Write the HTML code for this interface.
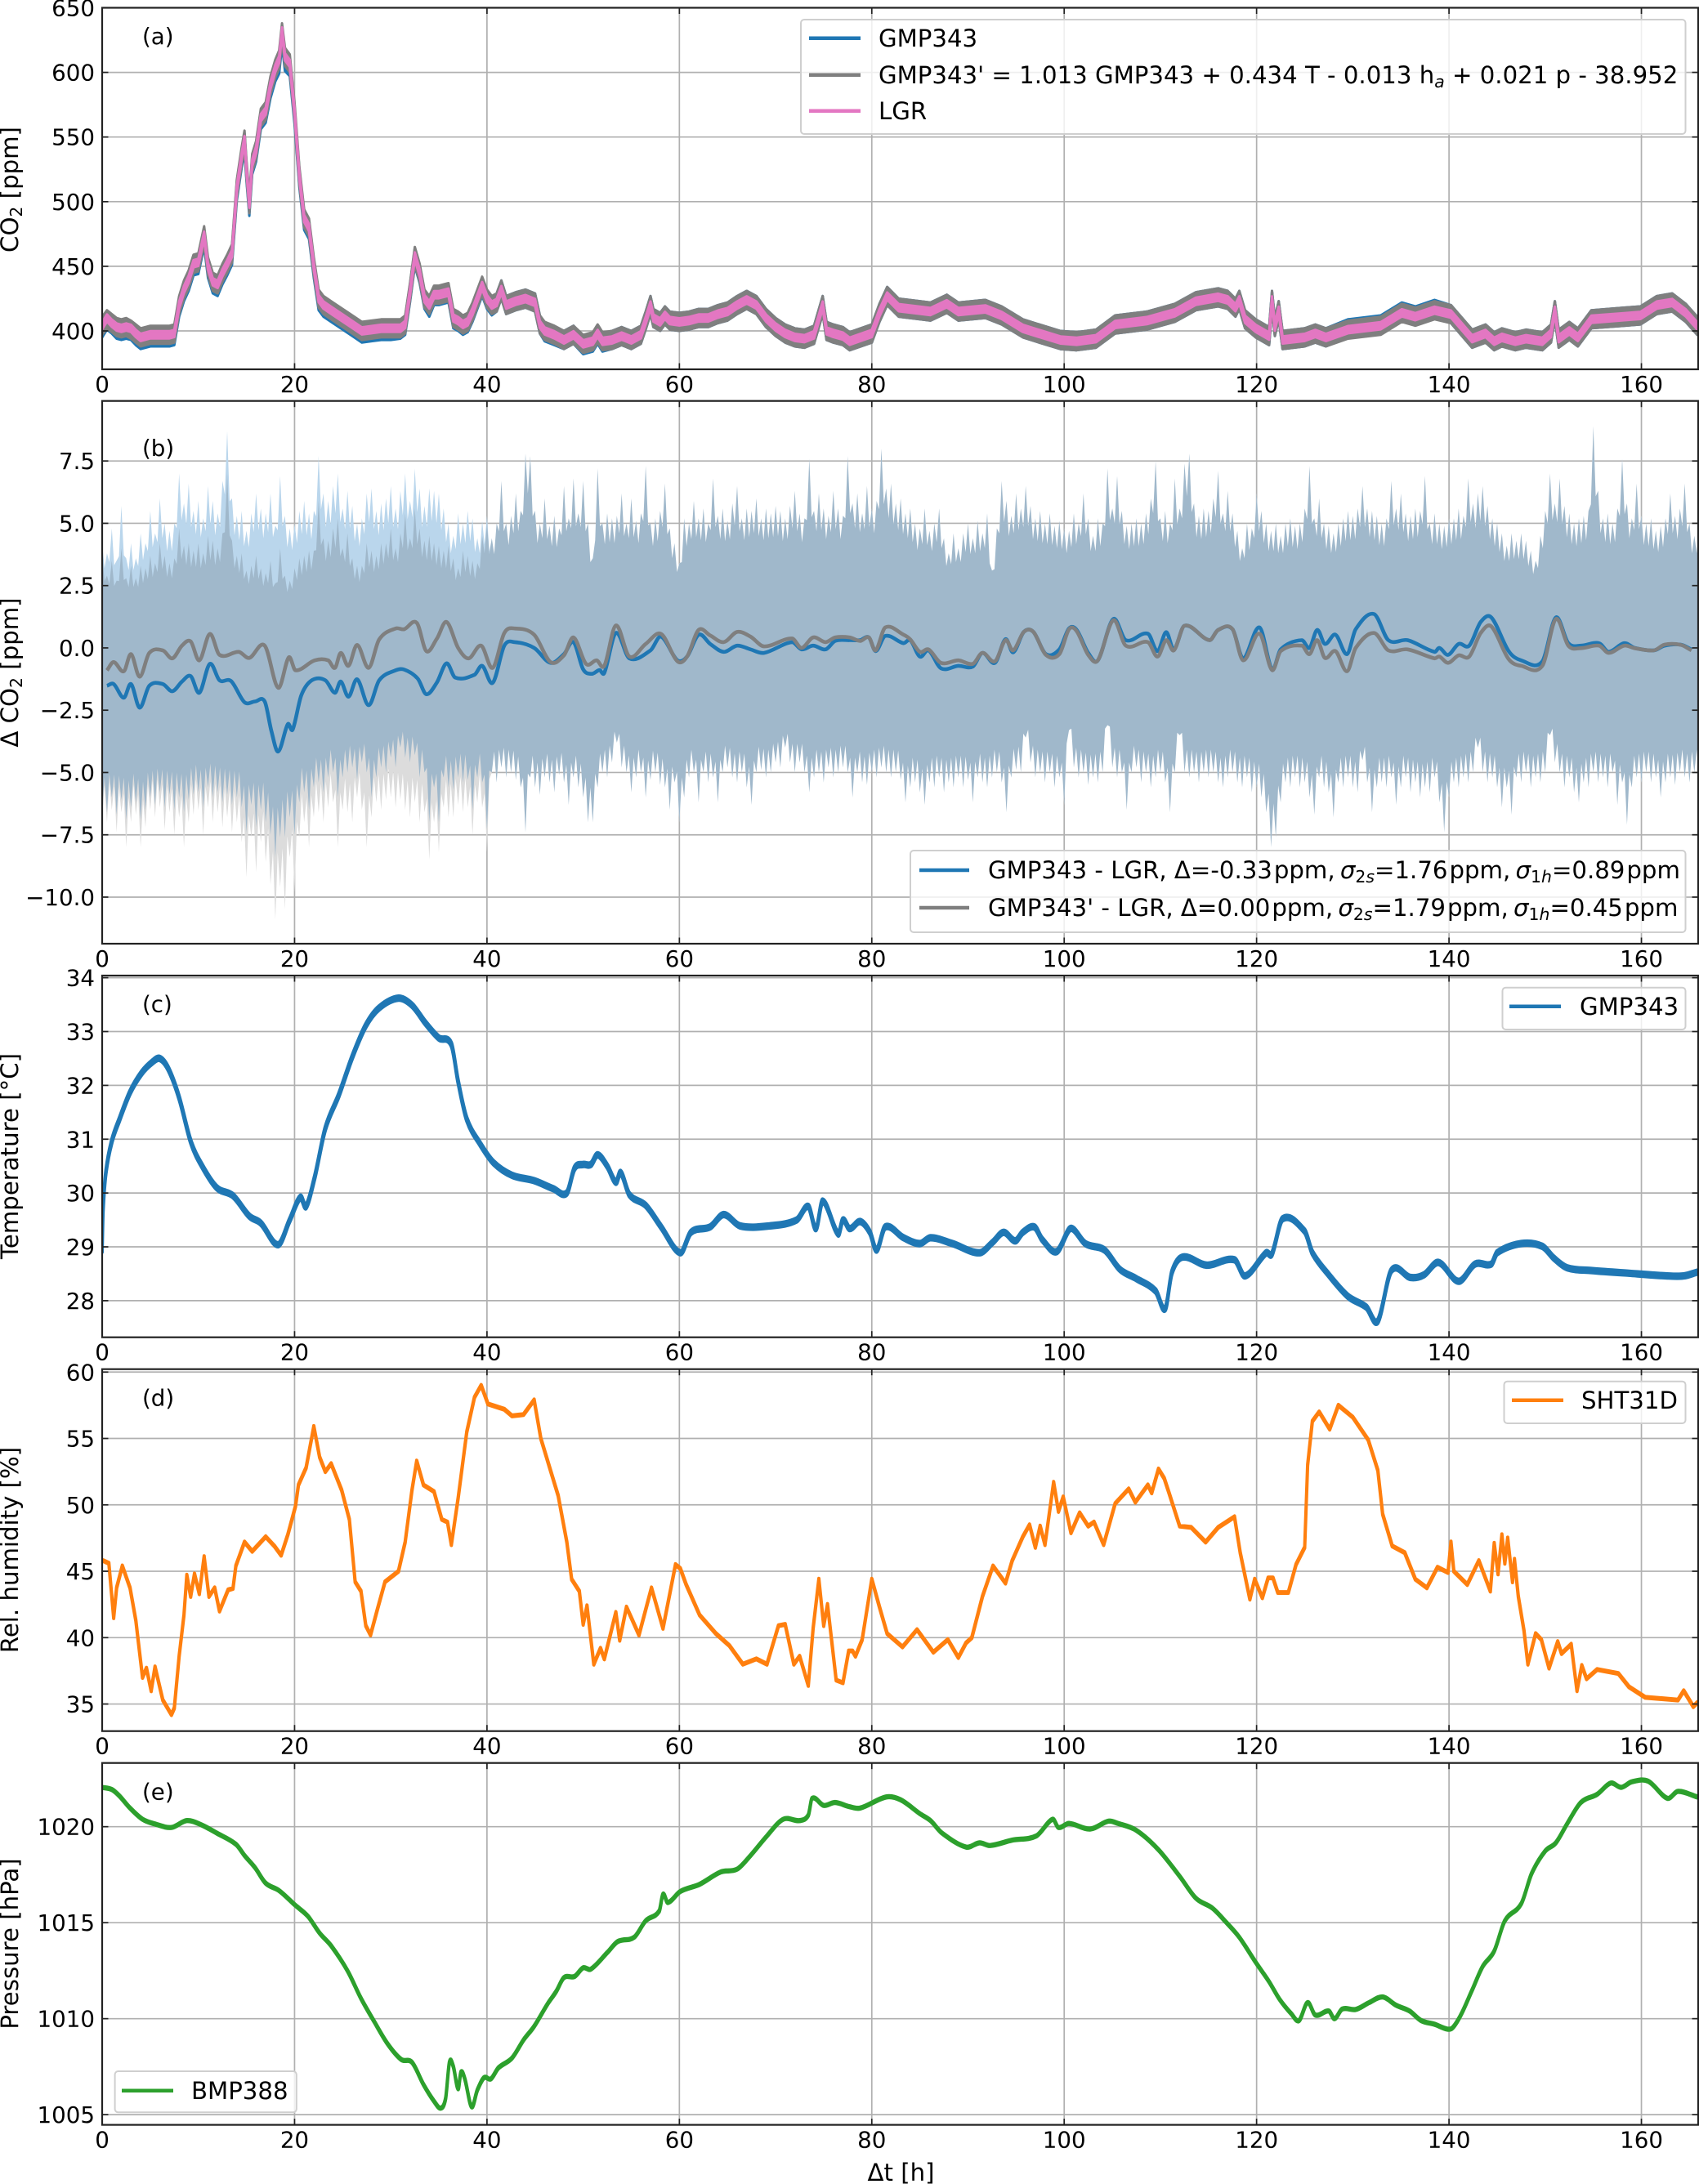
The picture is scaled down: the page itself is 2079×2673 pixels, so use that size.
<!DOCTYPE html>
<html lang="en">
<head>
<meta charset="utf-8">
<title>CO2 sensor comparison time series</title>
<style>
html,body{margin:0;padding:0;background:#fff;}
svg{display:block;font-family:"DejaVu Sans","Liberation Sans",sans-serif;font-size:27.7px;fill:#000;}
.legend-box{fill:rgba(255,255,255,.8);stroke:#cfcfcf;stroke-width:2;}
.big{font-size:29.2px;}
.sub{font-size:20.4px;}
</style>
</head>
<body>
<svg id="chart" xmlns="http://www.w3.org/2000/svg" width="2079" height="2673" viewBox="0 0 2079 2673">
  <rect x="0" y="0" width="2079" height="2673" fill="#fff"/>
  <g id="plot-layer"></g>

  <text x="174" y="54">(a)</text>
  <text x="174" y="558">(b)</text>
  <text x="174" y="1238.5">(c)</text>
  <text x="174" y="1720.5">(d)</text>
  <text x="174" y="2202.5">(e)</text>

  <text class="big" transform="translate(22,232) rotate(-90)" text-anchor="middle">CO<tspan class="sub" dy="5">2</tspan><tspan dy="-5"> [ppm]</tspan></text>
  <text class="big" transform="translate(22,823) rotate(-90)" text-anchor="middle">Δ CO<tspan class="sub" dy="5">2</tspan><tspan dy="-5"> [ppm]</tspan></text>
  <text class="big" transform="translate(22,1415) rotate(-90)" text-anchor="middle">Temperature [°C]</text>
  <text class="big" transform="translate(22,1897) rotate(-90)" text-anchor="middle">Rel. humidity [%]</text>
  <text class="big" transform="translate(22,2379) rotate(-90)" text-anchor="middle">Pressure [hPa]</text>
  <text class="big" x="1102.5" y="2669" text-anchor="middle">Δt [h]</text>

  <g class="big">
    <rect class="legend-box" x="980" y="24" width="1082.5" height="140" rx="4"/>
    <line x1="990" x2="1053" y1="46.7" y2="46.7" stroke="#1f77b4" stroke-width="4.5"/>
    <text x="1075" y="57">GMP343</text>
    <line x1="990" x2="1053" y1="91.7" y2="91.7" stroke="#7f7f7f" stroke-width="4.5"/>
    <text x="1075" y="102">GMP343' = 1.013 GMP343 + 0.434 T - 0.013 h<tspan class="sub" font-style="italic" dy="5">a</tspan><tspan dy="-5"> + 0.021 p - 38.952</tspan></text>
    <line x1="990" x2="1053" y1="135.7" y2="135.7" stroke="#e377c2" stroke-width="4.5"/>
    <text x="1075" y="146">LGR</text>
  </g>

  <g class="big">
    <rect class="legend-box" x="1114" y="1041" width="948.5" height="100" rx="4"/>
    <line x1="1125" x2="1186" y1="1065" y2="1065" stroke="#1f77b4" stroke-width="4.5"/>
    <text x="1209" y="1075">GMP343 - LGR, Δ=-0.33<tspan dx="2">ppm,</tspan> <tspan dx="-3" font-style="italic">σ</tspan><tspan class="sub" dy="5">2</tspan><tspan class="sub" font-style="italic">s</tspan><tspan dy="-5">=1.76</tspan><tspan dx="2">ppm,</tspan> <tspan dx="-3" font-style="italic">σ</tspan><tspan class="sub" dy="5">1</tspan><tspan class="sub" font-style="italic">h</tspan><tspan dy="-5">=0.89</tspan><tspan dx="2">ppm</tspan></text>
    <line x1="1125" x2="1186" y1="1111" y2="1111" stroke="#7f7f7f" stroke-width="4.5"/>
    <text x="1209" y="1121">GMP343' - LGR, Δ=0.00<tspan dx="2">ppm,</tspan> <tspan dx="-3" font-style="italic">σ</tspan><tspan class="sub" dy="5">2</tspan><tspan class="sub" font-style="italic">s</tspan><tspan dy="-5">=1.79</tspan><tspan dx="2">ppm,</tspan> <tspan dx="-3" font-style="italic">σ</tspan><tspan class="sub" dy="5">1</tspan><tspan class="sub" font-style="italic">h</tspan><tspan dy="-5">=0.45</tspan><tspan dx="2">ppm</tspan></text>
  </g>

  <g class="big">
    <rect class="legend-box" x="1838.5" y="1208.7" width="224" height="51.3" rx="4"/>
    <line x1="1847" x2="1910" y1="1231.7" y2="1231.7" stroke="#1f77b4" stroke-width="4.5"/>
    <text x="1933" y="1242">GMP343</text>
  </g>

  <g class="big">
    <rect class="legend-box" x="1840.5" y="1690.7" width="222" height="51.3" rx="4"/>
    <line x1="1850" x2="1913" y1="1713.7" y2="1713.7" stroke="#ff7f0e" stroke-width="4.5"/>
    <text x="1935" y="1724">SHT31D</text>
  </g>

  <g class="big">
    <rect class="legend-box" x="140.6" y="2535" width="222.2" height="50.3" rx="4"/>
    <line x1="149" x2="212" y1="2558.8" y2="2558.8" stroke="#2ca02c" stroke-width="4.5"/>
    <text x="234" y="2569">BMP388</text>
  </g>
</svg>

<script>
// Shared x axis
const xTicks = [0,20,40,60,80,100,120,140,160];
const xMaxHours = 165.9;

// Panel (a): CO2
const co2Ticks = [400,450,500,550,600,650];
const co2Hours = [
0,.5,1,1.5,2,2.5,3,3.5,4,5,6,7,7.5,8,8.5,9,9.5,10,10.6,11,
11.5,12,12.5,13,13.5,14,14.5,14.8,15,15.3,15.6,16,16.5,17,17.5,18,18.4,18.7,19,19.5,
20,20.5,21,21.5,22,22.5,23,24,25,26,27,28,29,30,31,31.5,32,32.5,33,33.5,
34,34.5,35,36,36.5,37,37.5,38,38.5,39,39.5,40,40.5,41,41.5,42,43,44,45,45.5,
46,47,48,49,50,51,51.5,52,53,54,55,56,56.5,57,57.3,58,58.5,59,60,61,
62,63,64,65,66,67,68,69,70,71,72,73,74,74.9,75.3,76,77,77.7,80,80.8,
81.6,82.8,85,86.1,87.8,89,91.8,93.5,95.7,97.4,99.6,101.3,103.3,105.3,108.6,111.5,113.7,116,117,117.8,
118.2,118.8,119.9,121.3,121.6,121.9,122.3,122.7,125,126.1,127.2,129.5,132.9,135.1,136.5,138.5,140.2,142.4,143.8,144.7,
145.5,146.9,148,149.7,150.6,151,151.4,152.5,153.4,154.8,158.2,159.9,161.6,163.2,164.6,165.8];
const co2Lgr = [
404,410,406,403,402,403,402,398,395,397,397,397,398,420,432,440,452,453,474,450,
438,436,445,452,460,510,535,548,525,498,530,540,565,570,590,603,610,632,612,607,
570,520,487,480,450,425,420,415,410,405,400,401,402,402,402,405,430,458,445,425,
420,428,428,430,410,408,405,407,415,425,435,425,420,422,432,420,423,425,422,405,
400,397,393,397,390,392,398,392,393,396,393,397,408,420,410,407,412,408,407,408,
410,410,413,415,420,424,420,410,403,398,395,394,397,420,400,398,396,392,398,414,
427,418,416,415,421,415,417,412,402,398,393,392,394,405,408,414,423,426,424,418,
424,409,402,396,424,403,416,393,395,398,395,401,404,414,411,416,413,394,398,392,
395,392,394,392,398,416,394,400,395,409,411,412,420,422,414,404];
const co2Gmp = [
402,408,405,401,400,401,400,396,393,395,395,395,396,418,430,438,450,451,472,448,
436,434,443,450,458,508,533,546,523,496,528,538,563,568,587,600,606,628,608,604,
567,518,485,478,448,423,418,413,408,403,398,399,400,400,401,404,429,457,444,424,
418,427,427,429,409,407,404,406,414,424,434,424,419,422,432,420,423,425,422,405,
399,396,393,397,389,391,397,391,393,396,393,397,408,420,410,407,412,408,407,408,
410,410,413,415,420,424,420,410,403,398,395,394,397,420,400,398,396,392,398,414,
427,418,416,415,421,415,417,412,402,398,393,392,394,405,408,414,423,426,424,418,
424,409,402,396,424,403,416,393,395,398,395,402,405,415,412,417,413,394,398,392,
395,392,394,392,398,416,394,400,395,409,411,412,420,422,414,404];
const co2Corrected = [
404,409,406,403,402,403,401,398,395,397,397,397,398,420,432,440,452,453,474,450,
438,436,445,452,460,510,535,548,525,498,530,540,565,570,590,603,610,631,612,607,
570,520,487,480,450,425,420,415,410,405,400,401,402,402,402,405,430,458,445,425,
420,428,428,430,410,408,405,407,415,425,435,425,420,422,432,420,423,425,422,405,
400,397,393,397,390,392,398,392,393,396,393,397,408,420,410,407,412,408,407,408,
410,410,413,415,420,424,420,410,403,398,395,394,397,420,400,398,396,392,398,414,
427,418,416,415,421,415,417,412,402,398,393,392,394,405,408,414,423,426,424,418,
424,409,402,396,424,403,416,393,395,398,395,401,404,414,411,416,413,394,398,392,
395,392,394,392,398,416,394,400,395,409,411,412,420,422,414,404];
const co2NoiseGray = 7;
const co2NoisePink = 2.8;

// Panel (b): difference to reference
const deltaTicks = [-10,-7.5,-5,-2.5,0,2.5,5,7.5];
const deltaTickLabels = ["−10.0","−7.5","−5.0","−2.5","0.0","2.5","5.0","7.5"];
const bandStepHours = 0.5;
const upperBlueEarly = [4.2,3.8,4.8,3.5,5.7,3.6,4.2,3.6,4.6,4.2,5.5,4.6,6.0,5.0,4.7,5.0,7.0,5.8,6.6,5.5,
5.9,5.2,6.5,5.9,5.4,6.7,8.7,6.0,5.3,5.5,4.7,5.4,6.2,5.6,5.4,6.2,4.9,6.9,5.3,4.8,
5.0,5.5,5.9,5.4,5.5,7.7,6.2,5.9,6.5,7.0,5.6,6.3,5.7,5.0,5.2,6.2,6.4,5.5,5.8,6.0,
6.5,5.6,6.3,7.0,5.9,7.2,6.4,5.7,6.4,6.3,6.2,5.6,5.0,4.5,5.4,5.0,5.5,5.2,4.4,5.1,5.3];
const upperGrayEarly = [3.8,2.9,3.5,2.7,4.0,2.8,3.3,2.8,3.3,3.2,3.7,3.4,4.2,3.7,3.4,3.6,4.8,4.1,4.2,3.9,
4.2,3.8,4.5,4.3,4.0,4.6,7.0,4.3,3.7,3.8,3.1,3.3,3.7,3.2,3.0,3.5,2.6,4.0,2.9,2.7,
3.2,3.6,3.7,3.9,3.9,5.9,4.4,4.3,4.8,5.2,4.0,4.6,3.6,3.3,3.3,4.2,3.9,3.7,4.2,4.2,
4.8,4.0,4.6,5.4,4.4,5.6,4.8,4.3,4.5,4.2,4.1,3.9,4.1,3.6,3.2,3.9,3.7,3.5,3.4,4.5,5.0];
const upperShared = [
4.4,5.0,6.7,5.0,5.3,6.2,5.5,7.8,7.7,5.5,5.0,6.0,4.9,5.3,4.8,6.5,5.2,6.8,5.4,6.7,
5.0,3.6,7.2,5.0,5.4,5.2,5.3,6.2,5.0,6.0,5.1,5.4,7.3,5.0,5.2,5.5,6.6,4.8,4.2,3.4,
5.2,5.0,5.9,5.2,5.6,5.0,6.8,5.3,5.6,5.1,5.8,6.5,5.2,5.6,5.5,6.0,5.2,5.6,5.4,5.7,
5.5,5.2,5.7,6.3,5.4,5.2,7.6,5.5,6.2,5.6,5.3,6.3,5.6,5.3,7.7,5.8,6.2,5.4,6.5,5.6,
5.9,8.0,6.4,6.6,5.8,6.0,5.4,5.6,5.0,4.8,5.6,4.7,5.0,5.6,4.4,3.8,4.6,4.0,4.6,5.0,
4.4,5.1,4.6,5.4,3.1,4.8,6.7,5.9,5.3,6.2,5.6,6.5,5.7,5.2,5.5,5.0,5.4,4.9,5.1,4.8,
4.7,5.4,5.0,6.2,5.2,4.5,5.2,5.0,7.2,5.6,6.9,5.5,4.9,5.0,5.2,5.0,5.4,6.0,7.5,5.2,
5.5,5.0,6.8,5.6,7.4,7.8,5.8,5.3,5.6,5.5,6.0,7.1,5.4,6.3,5.4,4.7,4.0,5.0,4.8,6.2,
5.5,5.0,4.7,5.0,4.5,5.0,5.2,4.9,5.0,5.6,7.3,5.2,6.0,5.0,4.9,4.6,5.0,5.2,5.5,5.3,
5.6,6.5,5.6,5.5,5.3,5.0,5.2,6.7,5.6,6.2,5.4,5.3,5.6,5.5,6.9,5.0,5.4,5.0,4.9,5.2,
5.2,5.6,5.3,6.8,5.8,6.2,6.5,5.7,5.2,5.0,4.6,4.1,4.6,4.3,4.6,4.3,3.9,3.5,4.5,5.5,
7.0,5.8,6.8,5.7,5.4,5.0,5.2,5.3,5.5,8.9,6.3,5.2,5.4,5.0,5.6,7.6,5.8,5.2,6.6,5.3,
5.0,5.2,4.7,4.9,5.2,6.2,5.3,5.6,6.6,5.0,4.5,5.0];
const lowerGrayEarly = [-6.8,-7.0,-6.5,-7.4,-6.6,-8.0,-7.0,-6.7,-8.0,-7.2,-6.5,-6.8,-6.4,-7.3,-6.6,-7.5,-6.8,-8.0,-7.0,-6.7,
-6.5,-7.5,-6.4,-7.0,-6.6,-7.2,-6.8,-7.4,-7.0,-7.8,-9.2,-7.6,-9.0,-7.8,-8.6,-9.5,-10.9,-9.6,-10.5,-8.4,
-9.8,-7.6,-7.0,-8.0,-6.8,-6.6,-7.0,-6.4,-6.2,-8.0,-6.5,-6.6,-7.0,-6.0,-6.5,-8.0,-6.8,-6.2,-6.5,-6.1,
-6.0,-6.4,-6.1,-6.5,-6.8,-6.2,-7.0,-6.6,-8.5,-7.0,-8.2,-6.4,-6.8,-6.8,-6.3,-6.6,-6.4,-7.5,-6.2,-6.4,-8.2];
const lowerBlueEarly = [-6.4,-6.6,-6.0,-6.7,-6.1,-6.9,-6.4,-6.2,-6.9,-6.5,-6.0,-6.3,-5.8,-6.4,-5.9,-6.5,-6.0,-6.6,-6.1,-5.9,
-5.8,-6.4,-5.6,-6.0,-5.8,-6.2,-5.9,-6.3,-6.0,-6.4,-7.4,-6.3,-7.2,-6.5,-7.0,-7.5,-8.4,-7.6,-7.6,-6.8,
-7.5,-6.2,-5.8,-6.5,-5.6,-5.4,-5.8,-5.2,-5.0,-6.0,-5.2,-5.0,-4.8,-5.3,-4.6,-5.0,-6.0,-5.2,-4.8,-5.0,
-4.4,-4.8,-4.0,-4.4,-4.6,-4.3,-5.2,-5.0,-7.0,-5.6,-7.0,-5.2,-5.6,-5.7,-5.2,-5.4,-5.3,-6.5,-5.2,-5.4,-7.3];
const lowerShared = [
-5.0,-5.4,-4.8,-5.2,-5.0,-5.3,-5.6,-7.4,-5.2,-5.6,-5.9,-5.2,-5.4,-5.8,-5.1,-5.4,-6.3,-5.2,-5.6,-6.0,
-7.0,-7.0,-5.6,-5.0,-5.2,-4.6,-3.8,-4.8,-5.0,-5.8,-5.2,-5.0,-6.0,-5.3,-5.0,-5.5,-5.6,-6.5,-5.4,-7.0,
-6.0,-5.2,-5.0,-6.2,-5.0,-5.4,-5.2,-6.2,-5.0,-4.8,-5.2,-5.4,-5.0,-5.6,-6.3,-5.0,-4.9,-5.2,-5.0,-4.6,
-4.8,-4.0,-4.6,-5.0,-4.6,-5.0,-5.8,-5.2,-5.0,-5.4,-4.8,-5.2,-5.0,-4.8,-5.0,-6.0,-5.0,-5.4,-5.5,-5.0,
-5.2,-4.8,-5.0,-5.2,-5.0,-5.3,-6.2,-5.6,-5.4,-5.8,-6.3,-5.4,-5.6,-5.2,-5.8,-5.4,-5.6,-5.2,-5.6,-5.3,
-6.2,-5.2,-5.4,-5.6,-5.2,-5.0,-5.4,-6.6,-5.2,-4.9,-5.0,-3.6,-4.6,-5.2,-5.0,-5.4,-5.0,-5.6,-5.2,-6.3,
-3.3,-4.8,-5.2,-5.0,-5.5,-5.2,-5.4,-5.0,-3.1,-4.8,-5.2,-5.0,-6.5,-5.0,-4.8,-5.4,-5.0,-5.6,-5.2,-5.0,
-5.4,-6.6,-5.0,-3.5,-5.0,-5.2,-5.0,-5.4,-5.0,-5.2,-5.0,-5.4,-5.6,-5.2,-5.0,-5.4,-5.6,-5.2,-5.8,-5.6,
-6.0,-6.6,-8.0,-7.6,-6.2,-5.4,-5.6,-5.2,-5.6,-5.4,-6.0,-6.7,-5.2,-5.6,-5.8,-6.8,-5.4,-5.6,-5.2,-5.6,
-5.8,-4.5,-5.4,-6.6,-5.6,-5.4,-5.6,-5.2,-6.3,-5.6,-5.2,-5.8,-5.4,-6.0,-5.6,-5.8,-5.2,-6.2,-7.4,-6.0,
-5.4,-5.6,-5.2,-5.4,-5.0,-4.0,-5.0,-5.4,-5.2,-5.6,-6.4,-5.6,-6.7,-5.2,-5.4,-5.0,-5.6,-5.2,-5.4,-5.0,
-3.5,-4.6,-5.0,-5.6,-5.2,-5.8,-6.2,-5.4,-5.6,-5.0,-5.4,-5.2,-5.6,-5.0,-6.3,-5.4,-7.1,-5.6,-5.2,-5.4,
-5.0,-5.4,-5.2,-6.0,-5.4,-5.2,-5.5,-5.0,-5.2,-5.4,-5.0,-5.2];
const upperBlue = upperBlueEarly.concat(upperShared);
const upperGray = upperGrayEarly.concat(upperShared);
const lowerBlue = lowerBlueEarly.concat(lowerShared);
const lowerGray = lowerGrayEarly.concat(lowerShared);

const deltaGmpHours = [.5,1.2,2.25,3,3.9,4.9,6.3,7.3,8.3,9.2,10.1,11.2,12.2,13.4,14.8,15.9,16.9,17.6,18.3,19.3,
19.8,20.7,21.8,23.2,24.2,24.8,25.6,26.5,27.7,28.8,30.5,31.4,32.8,33.7,34.8,35.8,36.7,38.7,39.5,40.6,
41.8,42.9,44.9,46.6,48,49,50,50.9,51.7,52.2,53.4,54.8,57,58.1,59.8,60.8,62,63.2,64.6,66,
67.4,68.8,71.7,72.7,73.9,75.2,76.2,77.7,78.8,79.7,80.4,81.4,83.3,84,85,85.9,87.2,89,90.5,91.5,
92.8,93.9,94.7,95.8,96.8,98.1,99.5,100.5,101.3,102.5,103.5,105.1,106.4,108.7,109.7,110.6,111.4,112.5,115.1,116,
117.5,118.6,120.3,121.6,122.5,124.7,125.5,126.3,127.1,128.2,129.4,130.3,132.2,133.7,135.7,138.5,139,139.9,141,142.1,
143.3,144.4,146.2,147.5,149.7,151.1,152.4,153.7,155.6,156.6,158.2,159.3,161.3,162.4,164.1,165.2];
const deltaGmpValues = [-1.52,-1.45,-2,-1.45,-2.4,-1.52,-1.45,-1.74,-1.35,-1.13,-1.8,-.64,-1.3,-1.33,-2.18,-2.15,-2.15,-3.35,-4.16,-3.06,
-3.28,-1.9,-1.3,-1.3,-1.8,-1.35,-1.96,-1.26,-2.3,-1.3,-.9,-.87,-1.23,-1.86,-1.38,-.62,-1.19,-1.08,-.72,-1.4,
.09,.23,0,-.6,-.25,.23,-.86,-1.04,-.89,-1,.6,-.42,-.1,.45,-.5,-.35,.53,.16,-.16,.09,
-.06,-.2,.23,-.06,.09,-.06,.28,.31,.31,.42,-.13,.48,.19,.31,-.35,-.1,-.82,-.72,-.75,-.2,
-.6,.35,-.18,.64,.64,-.25,-.06,.78,.72,-.2,-.5,1.16,.31,.57,-.13,.63,-.06,.89,.31,.72,
.75,-.42,.82,-.86,-.06,.31,0,.72,.16,.53,-.25,.75,1.36,.31,.31,-.16,0,-.28,.16,.09,
1.04,1.22,-.13,-.5,-.54,1.22,.19,.09,.19,-.16,.19,0,-.1,.09,.13,-.06];
const deltaCorrHours = [.5,1.2,2.25,3,3.9,4.9,6.3,7.3,8.3,9.2,10.1,11.2,12.2,14.2,15.3,16.9,18.3,19.4,20.1,22.1,
23.5,24.2,24.8,25.6,26.5,27.7,28.8,30.5,31.4,32.7,33.7,34.8,35.8,37,38.1,39.4,40.6,41.8,42.9,44.9,
46.6,48,49,50.3,51.4,52.2,53.4,54.8,56.5,58.1,59.8,60.8,62,63.2,64.6,66,67.4,68.8,71.7,72.7,
73.9,75.2,76.2,77.7,78.8,79.7,80.4,81.4,83.3,84,85,85.9,87.2,89,90.5,91.5,92.8,93.9,94.7,95.8,
96.8,98.1,99.5,100.5,101.3,102.5,103.5,105.1,106.4,108.7,109.7,110.6,111.4,112.5,115.1,116,117.5,118.6,120.3,121.6,
122.5,124.7,125.5,126.3,127.1,128.2,129.4,130.3,132.2,133.7,135.7,138.5,139,139.9,141,142.1,143.3,144.4,146.2,147.5,
149.7,151.1,152.4,153.7,155.6,156.6,158.2,159.3,161.3,162.4,164.1,165.2];
const deltaCorrValues = [-.9,-.57,-.94,-.25,-1.16,-.2,-.1,-.42,.09,.26,-.5,.56,-.28,-.16,-.4,.09,-1.6,-.38,-.9,-.5,
-.5,-.8,-.2,-.72,.12,-.8,.34,.78,.75,1.01,-.13,.38,1.04,0,-.42,.09,-.8,.6,.78,.53,
-.57,-.3,.42,-.64,-.5,-.72,.9,-.35,.16,.56,-.54,-.35,.72,.5,.23,.64,.45,.06,.38,0,
.42,.23,.42,.42,.28,.42,-.1,.82,.53,.34,-.16,-.06,-.6,-.5,-.64,-.2,-.54,.31,-.1,.64,
.64,-.28,-.25,.75,.67,-.28,-.5,1.11,.09,.23,-.35,.31,-.1,.89,.31,.72,.75,-.5,.57,-.89,
-.13,.09,-.25,.31,-.4,-.13,-.94,0,.6,-.1,-.06,-.42,-.35,-.6,-.3,-.35,.6,.86,-.45,-.72,
-.72,1.16,.09,-.01,.09,-.2,.09,-.01,-.1,.13,.12,-.1];

// Panel (c): temperature
const tempTicks = [28,29,30,31,32,33,34];
const tempHours = [0,.1,.4,1,1.8,2.9,4.1,5.2,6,6.9,8,9.2,10.3,11.9,13.6,15.3,16.5,18.3,19.5,20.6,
21.2,22.1,23.2,24.6,26,27.4,28.8,30.8,32.2,33.6,35,36.3,37,37.9,39.3,40.7,42.6,44.9,46.9,48.3,
49.1,50,50.8,51.5,52.5,53.4,53.9,54.8,56.5,58.1,60.1,61.2,63.2,64.6,66.3,69.4,72.2,73.4,74.2,74.9,
76.5,77,77.7,78.8,79.8,80.5,81.4,83.3,85,86.1,88.4,91.2,92.6,93.7,94.9,95.7,96.9,97.7,99.2,100.5,
101,102.2,104.2,105.8,107.5,109.5,110.5,111.2,112.3,114.8,117.7,118.8,121,121.6,122.7,125,125.8,127.5,129.5,131.4,
132.6,134,136,137.4,138.9,141,142.7,144.4,145,147.5,149.7,150.9,152.3,154.8,158.7,162.7,164.4,165.8];
const tempValues = [28.94,29.7,30.4,30.96,31.37,31.87,32.23,32.43,32.5,32.3,31.77,30.96,30.53,30.1,29.95,29.57,29.44,29.04,29.5,29.92,
29.75,30.3,31.2,31.82,32.53,33.11,33.44,33.62,33.49,33.16,32.88,32.76,32.07,31.37,30.91,30.56,30.33,30.23,30.08,30,
30.46,30.53,30.53,30.71,30.5,30.2,30.38,29.97,29.77,29.37,28.89,29.27,29.37,29.6,29.39,29.39,29.5,29.75,29.34,29.85,
29.24,29.5,29.34,29.47,29.27,28.94,29.37,29.17,29.06,29.17,29.06,28.89,29.09,29.27,29.11,29.27,29.37,29.14,28.91,29.32,
29.32,29.06,28.94,28.58,28.41,28.18,27.85,28.53,28.81,28.66,28.76,28.46,28.89,28.87,29.52,29.29,28.89,28.48,28.08,27.88,
27.62,28.56,28.43,28.48,28.71,28.36,28.68,28.68,28.89,29.06,29.01,28.79,28.61,28.56,28.51,28.46,28.46,28.53];
const tempNoise = 0.04;

// Panel (d): relative humidity
const rhTicks = [35,40,45,50,55,60];
const rhHours = [.1,.7,1.2,1.5,2.1,2.9,3.5,4.2,4.6,5.1,5.5,6.3,7.2,7.5,8,8.5,8.8,9.2,9.6,10.1,
10.6,11.1,11.7,12.2,13.1,13.6,13.9,14.8,15.6,17,17.9,18.6,19.3,20.1,20.4,21.2,22,22.6,23.2,23.8,
24.9,25.7,26.3,26.9,27.4,27.9,28.6,29.4,30.8,31.5,32.2,32.7,33.4,34.5,35.3,35.9,36.3,37,37.9,38.7,
39.4,40.1,41.8,42.6,43.8,44.9,45.6,46.6,47.4,48.3,48.8,49.6,50,50.4,51.1,51.8,52.2,53.4,53.8,54.5,
55,55.8,56.5,57.1,58.3,59.6,60.1,60.7,62.1,63.8,65.2,66.6,68,69.1,70.3,71,71.9,72.5,73.4,73.9,
74.5,75,75.4,76.3,77,77.6,78,78.3,79,80,80.8,81.6,83.2,84.7,86.4,87.9,89,89.8,90.4,91.5,
92.6,93.9,94.6,95.7,96.4,97,97.5,98,98.9,99.4,99.9,100.7,101.6,102.5,103.1,104.1,105.3,106.7,107.4,108.7,
109.1,109.8,110.4,110.9,112,113.2,114.7,116,117.7,118.3,119.3,119.8,120.6,121.2,121.7,122.2,123.3,124.1,125,125.3,
125.8,126.5,127.6,128.5,130,131.6,132.6,133.1,134.1,135.4,136.5,137.7,138.8,139.9,140.2,140.5,141.9,143.1,144.3,144.7,
145.1,145.5,145.8,146.1,146.6,146.8,147.2,147.8,148.2,149,149.6,150.4,151.3,151.7,152.7,153.3,153.8,154.3,155.4,157.6,
158.7,160.4,163.8,164.4,165.4,165.8];
const rhValues = [45.8,45.6,41.5,43.75,45.4,43.75,41.3,37,37.7,36,37.8,35.3,34.2,34.7,38.6,41.7,44.7,43.1,44.8,43.3,
46.1,43.1,43.75,42,43.6,43.7,45.4,47.2,46.5,47.6,46.9,46.2,47.75,49.9,51.5,52.8,55.9,53.6,52.5,53.1,
51.1,48.9,44.2,43.5,40.9,40.2,42.1,44.2,45,47.2,51.1,53.3,51.5,51,48.9,48.7,47,50.5,55.5,58.1,
59,57.6,57.2,56.7,56.8,57.9,55,52.6,50.7,47.2,44.4,43.5,41,42.4,38,39.2,38.4,41.9,39.8,42.3,
41.5,40.2,42.1,43.75,40.7,45.5,45.2,44,41.7,40.3,39.4,38,38.4,38,40.9,41,38,38.6,36.4,40.7,
44.4,40.9,42.5,36.8,36.6,39,39,38.6,39.85,44.4,42.3,40.3,39.3,40.6,38.9,39.85,38.5,39.6,40,43.1,
45.4,44.1,45.8,47.6,48.5,46.8,48.4,47,51.7,49.5,50.6,47.9,49.4,48.4,48.7,47,50.1,51.2,50.2,51.5,
50.9,52.7,52,50.9,48.4,48.3,47.2,48.3,49.1,46.4,42.9,44.4,43,44.5,44.5,43.4,43.4,45.5,46.8,53,
56.3,57,55.7,57.5,56.6,54.9,52.6,49.3,46.9,46.4,44.4,43.75,45.3,44.9,47.2,45,44,45.8,43.5,47.1,
44.8,47.75,45.6,47.5,44.2,45.9,43.1,40.5,38,40.3,39.85,37.7,39.7,38.8,39.5,36,37.9,36.9,37.6,37.3,
36.3,35.5,35.3,36,34.8,35.1];
const rhNoise = 0.06;

// Panel (e): pressure
const pressureTicks = [1005,1010,1015,1020];
const pressureHours = [0,1,1.8,2.9,4.2,5.5,7.2,8.8,10.3,11.9,13.9,14.8,15.9,17,18.4,20.1,21.4,22.6,23.8,25.5,
26.9,28.3,29.7,31.1,32.2,33.4,34.5,35.2,35.7,36.1,36.5,37,37.3,37.7,38.4,39,39.7,40.4,41.2,42.6,
43.8,44.9,46.3,47.2,48,49.1,50,50.8,52.5,53.6,55.3,56.5,57.9,58.3,58.8,60.1,62.1,64.3,66,67.4,
69.1,70.8,72.5,73.4,73.8,75,76.2,77.7,78.8,81.5,83,85,86.1,87.3,89.8,91.2,92.3,94.6,97.1,98.8,
99.4,100.5,102.7,104.6,105.6,107.5,109.8,112,113.7,115.4,116.8,118.2,119.9,121.3,122.4,123.6,124.4,125.3,126.1,127.5,
128.1,128.9,130.3,131.7,133.1,134.5,135.9,137.1,138.5,139.8,140.4,141.3,142.4,143.5,144.7,145.8,147.5,148.6,150,151.1,
152.3,153.7,155.4,156.8,157.9,159,160.7,162.7,163.8,165.8];
const pressureValues = [1022.05,1021.94,1021.6,1020.97,1020.39,1020.14,1019.96,1020.32,1020.1,1019.67,1019.09,1018.5,1017.86,1017.06,1016.67,1015.9,1015.33,1014.46,1013.8,1012.5,
1011.06,1009.83,1008.67,1007.87,1007.73,1006.57,1005.7,1005.34,1005.85,1007.73,1007.51,1006.35,1007.22,1006.86,1005.41,1006.28,1006.93,1006.86,1007.44,1007.95,
1008.89,1009.6,1010.77,1011.42,1012.14,1012.2,1012.65,1012.58,1013.44,1014.02,1014.24,1015.1,1015.6,1016.48,1016.05,1016.63,1017,1017.64,1017.79,1018.5,
1019.52,1020.39,1020.32,1020.6,1021.48,1021.11,1021.26,1021.04,1020.97,1021.55,1021.4,1020.68,1020.32,1019.67,1018.94,1019.16,1019.02,1019.3,1019.52,1020.39,
1019.96,1020.17,1019.88,1020.29,1020.17,1019.81,1018.8,1017.42,1016.27,1015.76,1015.04,1014.24,1012.94,1011.92,1011,1010.26,1009.9,1010.84,1010.19,1010.4,
1010,1010.5,1010.48,1010.84,1011.13,1010.7,1010.4,1009.9,1009.71,1009.46,1009.54,1010.26,1011.49,1012.72,1013.52,1015.1,1015.98,1017.57,1018.73,1019.16,
1020.17,1021.26,1021.69,1022.27,1022.05,1022.34,1022.37,1021.48,1021.84,1021.55];
const pressureNoise = 0.05;

const SVG_NS = 'http://www.w3.org/2000/svg';
const plotLayer = document.getElementById('plot-layer');
const axesLeft = 125;
const axesRight = 2078;
const spikeValleyRatio = 0.8;

function make(tag, attrs, parent) {
  const node = document.createElementNS(SVG_NS, tag);
  for (const key in attrs) node.setAttribute(key, attrs[key]);
  parent.appendChild(node);
  return node;
}
function xScale(hours) {
  return axesLeft + hours / xMaxHours * (axesRight - axesLeft);
}
function yScale(panel, value) {
  return panel.top + (panel.yMax - value) / (panel.yMax - panel.yMin) * (panel.bottom - panel.top);
}
function pts(list) {
  return list.map(function (p) { return p[0].toFixed(1) + ',' + p[1].toFixed(1); }).join(' ');
}
// Cubic segments through the points, with tangents from neighbouring points.
function curveSegments(list) {
  let d = '';
  function slope(i) {
    const a = list[Math.max(i - 1, 0)];
    const b = list[Math.min(i + 1, list.length - 1)];
    return (b[1] - a[1]) / (b[0] - a[0]);
  }
  for (let i = 0; i < list.length - 1; i++) {
    const p = list[i];
    const q = list[i + 1];
    const dx = (q[0] - p[0]) / 3;
    d += 'C' + (p[0] + dx).toFixed(1) + ' ' + (p[1] + slope(i) * dx).toFixed(1) + ' ' +
         (q[0] - dx).toFixed(1) + ' ' + (q[1] - slope(i + 1) * dx).toFixed(1) + ' ' +
         q[0].toFixed(1) + ' ' + q[1].toFixed(1);
  }
  return d;
}
function curveLine(panel, hours, values, color, width, name) {
  const list = hours.map(function (h, i) { return [xScale(h), yScale(panel, values[i])]; });
  const d = 'M' + list[0][0].toFixed(1) + ' ' + list[0][1].toFixed(1) + curveSegments(list);
  const el = make('path', {d: d, fill: 'none', stroke: color, 'stroke-width': width, 'stroke-linejoin': 'round'}, panel.clipped);
  
  
  return el;
}
function noiseBand(panel, hours, values, noise, color, strokeWidth, name) {
  const upper = hours.map(function (h, i) { return [xScale(h), yScale(panel, values[i] + noise)]; });
  const lower = hours.map(function (h, i) { return [xScale(h), yScale(panel, values[i] - noise)]; }).reverse();
  const el = make('polygon', {points: pts(upper.concat(lower)), fill: color, stroke: color, 'stroke-width': strokeWidth, 'stroke-linejoin': 'round'}, panel.clipped);
  
  
  return el;
}
function smoothBand(panel, hours, values, noise, color, strokeWidth, name) {
  const upper = hours.map(function (h, i) { return [xScale(h), yScale(panel, values[i] + noise)]; });
  const lower = hours.map(function (h, i) { return [xScale(h), yScale(panel, values[i] - noise)]; }).reverse();
  const d = 'M' + upper[0][0].toFixed(1) + ' ' + upper[0][1].toFixed(1) + curveSegments(upper) +
            'L' + lower[0][0].toFixed(1) + ' ' + lower[0][1].toFixed(1) + curveSegments(lower) + 'Z';
  const el = make('path', {d: d, fill: color, stroke: color, 'stroke-width': strokeWidth, 'stroke-linejoin': 'round'}, panel.clipped);
  
  
  return el;
}
// Sharpen an envelope: each sample is a spike tip with a valley before the next tip.
function spikes(panel, series) {
  const list = [];
  series.forEach(function (v, i) {
    list.push([xScale(i * bandStepHours), yScale(panel, v)]);
    if (i < series.length - 1) {
      const valley = (v + series[i + 1]) / 2 * spikeValleyRatio;
      list.push([xScale((i + 0.5) * bandStepHours), yScale(panel, valley)]);
    }
  });
  return list;
}
function envelope(panel, upper, lower, color, name) {
  const top = spikes(panel, upper);
  const bottom = spikes(panel, lower).reverse();
  const el = make('polygon', {points: pts(top.concat(bottom)), fill: color, style: 'mix-blend-mode:multiply'}, panel.clipped);
  
  
  return el;
}

function setupPanel(panel) {
  const group = make('g', {}, plotLayer);
  
  
  const w = axesRight - axesLeft;
  const h = panel.bottom - panel.top;

  const clip = make('clipPath', {id: 'clip-' + panel.id}, group);
  make('rect', {x: axesLeft, y: panel.top, width: w, height: h}, clip);

  const grid = make('g', {stroke: '#b0b0b0', 'stroke-width': 1.7}, group);
  
  
  xTicks.forEach(function (t) {
    const gridX = make('line', {x1: xScale(t), x2: xScale(t), y1: panel.top, y2: panel.bottom}, grid);
    
    
  });
  panel.ticks.forEach(function (v) {
    const gridY = make('line', {x1: axesLeft, x2: axesRight, y1: yScale(panel, v), y2: yScale(panel, v)}, grid);
    
    
  });

  panel.clipped = make('g', {'clip-path': 'url(#clip-' + panel.id + ')'}, group);
  
  
  panel.group = group;
}

function finishPanel(panel) {
  const group = panel.group;
  const ticks = make('g', {stroke: '#222', 'stroke-width': 1.7}, group);
  
  
  const tickLen = 7.5;
  xTicks.forEach(function (t) {
    const x = xScale(t);
    const tickBottom = make('line', {x1: x, x2: x, y1: panel.bottom, y2: panel.bottom - tickLen}, ticks);
    
    
    const tickTop = make('line', {x1: x, x2: x, y1: panel.top, y2: panel.top + tickLen}, ticks);
    
    
    const label = make('text', {x: x, y: panel.bottom + 28, 'text-anchor': 'middle'}, group);
    
    
    label.textContent = String(t);
  });
  panel.ticks.forEach(function (v, i) {
    const y = yScale(panel, v);
    const tickLeft = make('line', {x1: axesLeft, x2: axesLeft + tickLen, y1: y, y2: y}, ticks);
    
    
    const tickRight = make('line', {x1: axesRight, x2: axesRight - tickLen, y1: y, y2: y}, ticks);
    
    
    const label = make('text', {x: 116, y: y + 10, 'text-anchor': 'end'}, group);
    
    
    label.textContent = panel.labels ? panel.labels[i] : String(v);
  });
  const frame = make('rect', {x: axesLeft, y: panel.top, width: axesRight - axesLeft, height: panel.bottom - panel.top, fill: 'none', stroke: '#222', 'stroke-width': 2.2}, group);
  
  
}

const panelCo2 = {id: 'co2', top: 9.5, bottom: 452, yMin: 370.3, yMax: 650, ticks: co2Ticks};
const panelDelta = {id: 'delta', top: 490.7, bottom: 1155, yMin: -11.87, yMax: 9.91, ticks: deltaTicks, labels: deltaTickLabels};
const panelTemp = {id: 'temperature', top: 1194, bottom: 1636.7, yMin: 27.32, yMax: 34.04, ticks: tempTicks};
const panelRh = {id: 'humidity', top: 1675.7, bottom: 2118.7, yMin: 32.96, yMax: 60.22, ticks: rhTicks};
const panelPressure = {id: 'pressure', top: 2157.7, bottom: 2600.6, yMin: 1004.47, yMax: 1023.32, ticks: pressureTicks};

setupPanel(panelCo2);
noiseBand(panelCo2, co2Hours, co2Gmp, co2NoiseGray, '#1f77b4', 3, 'line-gmp343');
noiseBand(panelCo2, co2Hours, co2Corrected, co2NoiseGray, '#7f7f7f', 3, 'line-gmp343-corrected');
noiseBand(panelCo2, co2Hours, co2Lgr, co2NoisePink, '#e377c2', 3, 'line-lgr');
finishPanel(panelCo2);

setupPanel(panelDelta);
envelope(panelDelta, upperGray, lowerGray, '#dcdcdc', 'raw-difference-corrected-band');
envelope(panelDelta, upperBlue, lowerBlue, '#bad6ec', 'raw-difference-gmp343-band');
curveLine(panelDelta, deltaGmpHours, deltaGmpValues, '#1f77b4', 4.6, 'hourly-difference-gmp343');
curveLine(panelDelta, deltaCorrHours, deltaCorrValues, '#7f7f7f', 4.6, 'hourly-difference-corrected');
finishPanel(panelDelta);

setupPanel(panelTemp);
smoothBand(panelTemp, tempHours, tempValues, tempNoise, '#1f77b4', 4, 'line-temperature');
finishPanel(panelTemp);

setupPanel(panelRh);
noiseBand(panelRh, rhHours, rhValues, rhNoise, '#ff7f0e', 4, 'line-humidity');
finishPanel(panelRh);

setupPanel(panelPressure);
smoothBand(panelPressure, pressureHours, pressureValues, pressureNoise, '#2ca02c', 4, 'line-pressure');
finishPanel(panelPressure);
</script>
</body>
</html>
